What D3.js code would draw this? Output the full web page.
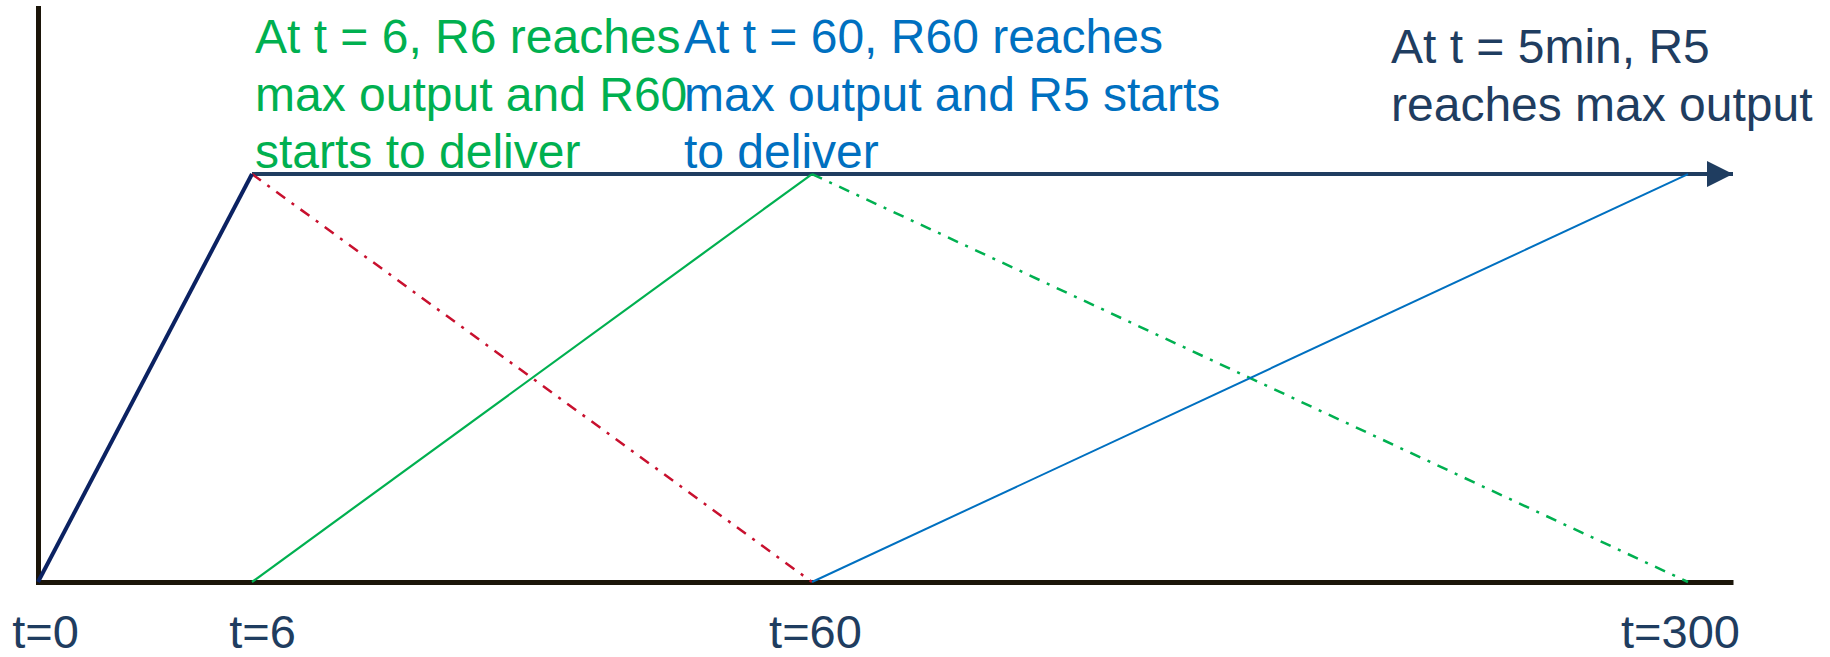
<!DOCTYPE html>
<html>
<head>
<meta charset="utf-8">
<script src="https://cdn.jsdelivr.net/npm/d3@7"></script>
<style>
  html, body { margin: 0; padding: 0; background: #ffffff; }
  svg { display: block; font-family: "Liberation Sans", Arial, sans-serif; }
</style>
</head>
<body>
<svg id="chart" width="1830" height="657"></svg>
<script>
// ---- data ----
const tickTimes = [0, 6, 60, 300];
const tickLabels = ["t=0", "t=6", "t=60", "t=300"];
const axisEnd = 315;              // time where the axis/arrow ends
const maxOutput = 1;

// segments: [time, output]
const r6Ramp    = [[0, 0], [6, 1]];
const r6Hold    = [[6, 1], [axisEnd, 1]];
const r6Decline = [[6, 1], [60, 0]];
const r60Ramp   = [[6, 0], [60, 1]];
const r60Decline= [[60, 1], [300, 0]];
const r5Ramp    = [[60, 0], [300, 1]];

const noteR6  = ["At t = 6, R6 reaches", "max output and R60", "starts to deliver"];
const noteR60 = ["At t = 60, R60 reaches", "max output and R5 starts", "to deliver"];
const noteR5  = ["At t = 5min, R5", "reaches max output"];

// ---- layout ----
const svg = d3.select("#chart");
const x = d3.scaleLinear()
  .domain([0, 6, 60, 300, axisEnd])
  .range([38, 252, 812, 1688, 1733]);
const y = d3.scaleLinear().domain([0, 1.407]).range([582, 8]);

const dark = "#1f3d60";
const navy = "#0b2262";
const green = "#00b050";
const blue = "#0070c0";
const red = "#c8102e";
const axisCol = "#1b1509";
const fs = 48;

const line = d3.line().x(d => x(d[0])).y(d => y(d[1]));

// arrow marker
svg.append("defs").append("marker")
  .attr("id", "arrow")
  .attr("markerUnits", "userSpaceOnUse")
  .attr("viewBox", "0 0 26 26")
  .attr("refX", 26).attr("refY", 13)
  .attr("markerWidth", 26).attr("markerHeight", 26)
  .attr("orient", "auto")
  .append("path").attr("d", "M0,0L26,13L0,26Z").attr("fill", dark);

// axes
const xAxis = d3.axisBottom(x)
  .tickValues(tickTimes)
  .tickFormat((d, i) => tickLabels[i])
  .tickSize(0).tickSizeOuter(0).tickPadding(33);
const gx = svg.append("g").attr("transform", `translate(0,${y(0)})`).call(xAxis);
gx.select(".domain").attr("stroke", axisCol).attr("stroke-width", 5);
gx.selectAll("text")
  .attr("font-size", 47).attr("fill", dark)
  .attr("font-family", "Liberation Sans, Arial, sans-serif")
  .attr("dx", (d, i) => [7, 10, 3, -8][i]);

const yAxis = d3.axisLeft(y).tickValues([]).tickSize(0).tickSizeOuter(0);
const gy = svg.append("g").attr("transform", `translate(${x(0)},0)`).call(yAxis);
gy.select(".domain").attr("stroke", axisCol).attr("stroke-width", 5)
  .attr("stroke-linecap", "square");

// series lines
svg.append("path").datum(r6Hold).attr("d", line)
  .attr("fill", "none").attr("stroke", dark).attr("stroke-width", 4)
  .attr("marker-end", "url(#arrow)");
svg.append("path").datum(r6Decline).attr("d", line)
  .attr("fill", "none").attr("stroke", red).attr("stroke-width", 2.5)
  .attr("stroke-dasharray", "11,8,3,8");
svg.append("path").datum(r60Ramp).attr("d", line)
  .attr("fill", "none").attr("stroke", green).attr("stroke-width", 2.2);
svg.append("path").datum(r60Decline).attr("d", line)
  .attr("fill", "none").attr("stroke", green).attr("stroke-width", 2.5)
  .attr("stroke-dasharray", "11,8,3,8");
svg.append("path").datum(r5Ramp).attr("d", line)
  .attr("fill", "none").attr("stroke", blue).attr("stroke-width", 2);
svg.append("path").datum(r6Ramp).attr("d", line)
  .attr("fill", "none").attr("stroke", navy).attr("stroke-width", 4)
  .attr("stroke-linejoin", "miter");

// annotations
function note(lines, x0, y0, color) {
  const t = svg.append("text").attr("x", x0).attr("y", y0)
    .attr("font-size", fs).attr("fill", color);
  t.selectAll("tspan").data(lines).join("tspan")
    .attr("x", x0).attr("dy", (d, i) => i === 0 ? 0 : 57.5).text(d => d);
}
note(noteR6, 255, 53, green);
note(noteR60, 684, 53, blue);
note(noteR5, 1391, 63, dark);
</script>
</body>
</html>
